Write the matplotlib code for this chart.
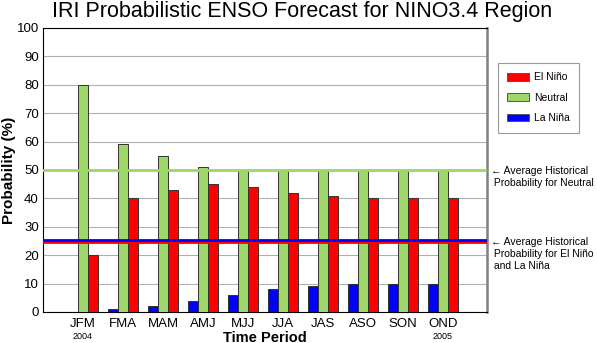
import matplotlib
matplotlib.use("Agg")
import matplotlib.pyplot as plt
import numpy as np
from matplotlib.patches import Patch

plt.rcParams['font.family'] = ['Liberation Sans', 'DejaVu Sans']

periods = ["JFM", "FMA", "MAM", "AMJ", "MJJ", "JJA", "JAS", "ASO", "SON", "OND"]
la_nina = [0, 1, 2, 4, 6, 8, 9, 10, 10, 10]
neutral = [80, 59, 55, 51, 50, 50, 50, 50, 50, 50]
el_nino = [20, 40, 43, 45, 44, 42, 41, 40, 40, 40]
hist_neutral = 50
hist_la_nina = 25.3
hist_el_nino = 24.7

red = "#ff0000"
green = "#9ed66a"
blue = "#0000ff"

W, H = 597, 343
fig = plt.figure(figsize=(W / 100, H / 100), dpi=100)
ax = fig.add_axes([43 / W, 1 - 312 / H, 444 / W, 284 / H])

x = np.arange(len(periods))
w = 0.27
off = 0.25
kw = dict(width=w, edgecolor="#333333", linewidth=0.7, zorder=3)
ax.bar(x - off, la_nina, color=blue, **kw)
ax.bar(x, neutral, color=green, **kw)
ax.bar(x + off, el_nino, color=red, **kw)

ax.axhline(hist_neutral, color=green, lw=2, zorder=4)
ax.axhline(hist_la_nina, color=blue, lw=2, zorder=5)
ax.axhline(hist_el_nino, color=red, lw=2, zorder=4)

ax.set_xlim(-1.0, 10.1)
ax.set_ylim(0, 100)
ax.set_yticks(range(0, 101, 10))
ax.set_xticks(x)
ax.set_xticklabels(periods)
ax.tick_params(axis="both", length=0, labelsize=9.5, pad=3)
ax.tick_params(axis="x", pad=4)
ax.yaxis.grid(True, color="#b0b0b0", lw=0.8, zorder=0)
ax.set_axisbelow(True)
for s in ["left", "bottom", "top"]:
    ax.spines[s].set_color("black")
    ax.spines[s].set_linewidth(0.8)
ax.spines["right"].set_color("#808080")
ax.spines["right"].set_linewidth(1.8)

xt = ax.get_xaxis_transform()
ax.text(0, -0.072, "2004", transform=xt, ha="center", va="top", fontsize=6.5)
ax.text(9, -0.072, "2005", transform=xt, ha="center", va="top", fontsize=6.5)

fig.text(9 / W, 1 - 170 / H, "Probability (%)", rotation=90, ha="center", va="center",
         fontsize=11, fontweight="bold")
fig.text(265 / W, 1 - 337.5 / H, "Time Period", ha="center", va="center",
         fontsize=10.5, fontweight="bold")
fig.text(0.506, 1 - 12 / H, "IRI Probabilistic ENSO Forecast for NINO3.4 Region",
         ha="center", va="center", fontsize=15.5)

handles = [Patch(facecolor=red, edgecolor="#555555", lw=0.7),
           Patch(facecolor=green, edgecolor="#555555", lw=0.7),
           Patch(facecolor=blue, edgecolor="#555555", lw=0.7)]
leg = fig.legend(handles, ["El Niño", "Neutral", "La Niña"],
                 loc="upper left", bbox_to_anchor=(498 / W, 1 - 63 / H),
                 fontsize=7.5, frameon=True, fancybox=False, borderpad=0.9,
                 handlelength=2.1, handleheight=0.75, labelspacing=1.0,
                 handletextpad=0.45, borderaxespad=0)
leg.get_frame().set_edgecolor("#808080")
leg.get_frame().set_linewidth(0.8)

fig.text(491 / W, 1 - 177 / H, "← Average Historical\n Probability for Neutral",
         ha="left", va="center", fontsize=7.5, linespacing=1.25)
fig.text(491 / W, 1 - 254 / H, "← Average Historical\n Probability for El Niño\n and La Niña",
         ha="left", va="center", fontsize=7.5, linespacing=1.25)

fig.savefig("out.png", dpi=100)
